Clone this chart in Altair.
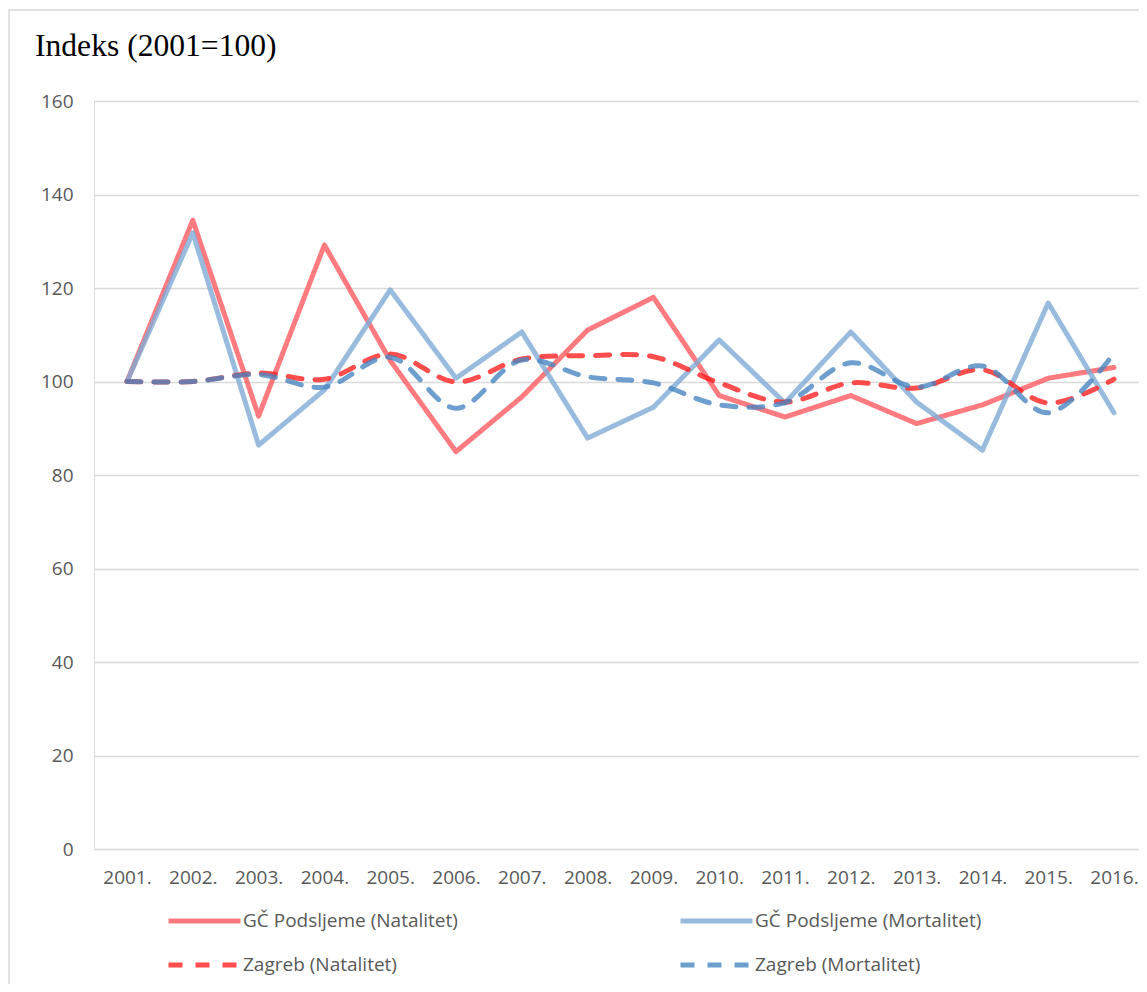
import altair as alt
import pandas as pd

title_text = "Indeks (2001=100)"
years = list(range(2001, 2017))
series_names = [
    "GČ Podsljeme (Natalitet)",
    "GČ Podsljeme (Mortalitet)",
    "Zagreb (Natalitet)",
    "Zagreb (Mortalitet)",
]
gc_nat = [100, 134.5, 92.6, 129.2, 104.5, 85.0, 96.7, 111.0, 118.0, 97.0, 92.4, 97.0, 91.0, 95.0, 100.7, 103.0]
gc_mort = [100, 131.8, 86.4, 98.2, 119.6, 100.7, 110.6, 87.9, 94.5, 108.9, 95.4, 110.6, 95.6, 85.3, 116.8, 93.3]
zg_nat = [100, 100, 101.8, 100.5, 105.9, 99.9, 104.8, 105.5, 105.3, 99.7, 95.6, 99.7, 98.6, 102.5, 95.4, 100.5]
zg_mort = [100, 100, 101.5, 98.8, 105.2, 94.3, 104.6, 101.0, 99.7, 95.0, 95.5, 104.0, 98.8, 103.3, 93.3, 106.0]
y_ticks = [0, 20, 40, 60, 80, 100, 120, 140, 160]

colors = ["#FF5A5F", "#7FAAD4", "#FF2020", "#4A86C0"]
dashes = [[1, 0], [1, 0], [14, 13], [14, 13]]

rows = []
for name, vals in zip(series_names, [gc_nat, gc_mort, zg_nat, zg_mort]):
    for yr, v in zip(years, vals):
        rows.append({"year": yr, "value": v, "series": name})
df = pd.DataFrame(rows)

W, H = 1045, 748
FONT = "Open Sans"

x_enc = alt.X(
    "year:Q",
    scale=alt.Scale(domain=[2000.4985, 2016.38], nice=False, zero=False),
    axis=alt.Axis(
        values=years, labelExpr="datum.value + '.'", grid=False, ticks=False,
        domain=False, title=None, labelPadding=19, labelFontSize=19,
        labelColor="#595959", labelFont=FONT, labelOverlap=False,
        labelFlush=False,
    ),
)
y_enc = alt.Y(
    "value:Q",
    scale=alt.Scale(domain=[0, 160], nice=False),
    axis=alt.Axis(
        values=y_ticks, grid=True, gridColor="#d9d9d9", gridWidth=1.4,
        ticks=False, domain=False, title=None, labelPadding=21,
        labelFontSize=19, labelColor="#595959", labelFont=FONT,
    ),
)
color_enc = alt.Color(
    "series:N",
    scale=alt.Scale(domain=series_names, range=colors),
    sort=series_names,
    legend=alt.Legend(
        title=None, orient="none", legendX=72, legendY=810, columns=2,
        direction="horizontal",
        symbolType="stroke", symbolSize=5184, symbolStrokeWidth=5,
        clipHeight=20, rowPadding=24, columnPadding=220, labelOffset=0,
        labelFont=FONT, labelFontSize=19, labelColor="#595959",
        labelLimit=400, symbolOpacity=0.8,
    ),
)
dash_enc = alt.StrokeDash(
    "series:N",
    scale=alt.Scale(domain=series_names, range=dashes),
    sort=series_names,
    legend=None,
)

base = alt.Chart(df).encode(x=x_enc, y=y_enc, color=color_enc, strokeDash=dash_enc)

solid = base.transform_filter(
    alt.FieldOneOfPredicate(field="series", oneOf=series_names[:2])
).mark_line(strokeWidth=5, opacity=0.8, strokeCap="round", strokeJoin="round")

dashed = base.transform_filter(
    alt.FieldOneOfPredicate(field="series", oneOf=series_names[2:])
).mark_line(strokeWidth=5, opacity=0.8, strokeCap="round", strokeJoin="round",
            interpolate="catmull-rom")

border = alt.Chart(alt.Data(values=[{}])).mark_rect(
    fill="transparent", stroke="#d9d9d9", strokeWidth=1.5
).encode(x=alt.value(-85), x2=alt.value(W + 40), y=alt.value(-91), y2=alt.value(H + 300))

title = alt.Chart(alt.Data(values=[{"t": title_text}])).mark_text(
    align="left", baseline="alphabetic", font="Liberation Serif",
    fontSize=31.6, color="#000000",
).encode(text="t:N", x=alt.value(-59), y=alt.value(-45))

chart = alt.layer(border, title, solid, dashed).properties(
    width=W, height=H,
    autosize=alt.AutoSizeParams(type="none"),
    padding={"left": 86, "top": 93, "right": 0, "bottom": 135},
).configure_view(stroke=None).configure(background="white")

chart.save("out.html", embed_options={"renderer": "svg", "actions": False})
